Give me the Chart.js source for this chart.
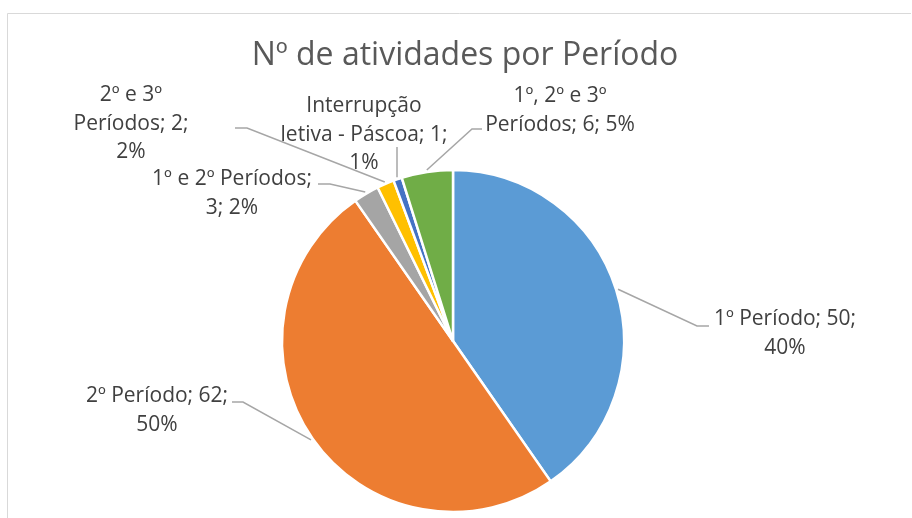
<!DOCTYPE html>
<html><head><meta charset="utf-8">
<script src="https://cdn.jsdelivr.net/npm/chart.js@4/dist/chart.umd.min.js"></script>
<style>html,body{margin:0;padding:0;background:#fff;overflow:hidden}#w{position:relative;width:912px;height:518px}</style>
</head><body><div id="w"><canvas id="c" width="912" height="518"></canvas></div>
<script>
const chartTitle = "Nº de atividades por Período";
const categories = ["1º Período", "2º Período", "1º e 2º Períodos", "2º e 3º Períodos", "Interrupção letiva - Páscoa", "1º, 2º e 3º Períodos"];
const activityCounts = [50, 62, 3, 2, 1, 6];
const sliceColors = ["#5B9BD5", "#ED7D31", "#A5A5A5", "#FFC000", "#4472C4", "#70AD47"];

// label layout: words per line, text centre x / first baseline offsets, leader end offset, elbow length (relative to pie centre)
const labelLayout = [
  {words: [3, 1],    tx: 332,  by: -16,  ex: 256,  ey: -15,  elbow: -12},
  {words: [3, 1],    tx: -296, by: 61,   ex: -221, ey: 61,   elbow: 11},
  {words: [4, 2],    tx: -221, by: -156, ex: -135, ey: -157, elbow: 12},
  {words: [3, 2, 1], tx: -322, by: -240, ex: -218, ey: -213, elbow: 12},
  {words: [1, 4, 1], tx: -89,  by: -229, ex: -56,  ey: -194, elbow: 0},
  {words: [4, 3],    tx: 107,  by: -239, ex: 29,   ey: -212, elbow: -10}
];

const LABEL_FONT = '21px "Open Sans", "Noto Sans", sans-serif';
const LINE_H = 28.5;

function labelLines(i) {
  const total = activityCounts.reduce((a, b) => a + b, 0);
  const pct = Math.round(activityCounts[i] / total * 100);
  const words = (categories[i] + "; " + activityCounts[i] + "; " + pct + "%").split(" ");
  const lines = [];
  let k = 0;
  for (const n of labelLayout[i].words) { lines.push(words.slice(k, k + n).join(" ")); k += n; }
  return lines;
}

const frame = {
  id: 'frame',
  beforeDraw(chart) {
    const ctx = chart.ctx;
    ctx.save();
    ctx.fillStyle = '#fff';
    ctx.fillRect(0, 0, chart.width, chart.height);
    ctx.strokeStyle = '#D9D9D9';
    ctx.lineWidth = 1;
    ctx.beginPath();
    ctx.moveTo(7.5, chart.height + 2);
    ctx.lineTo(7.5, 13.5);
    ctx.lineTo(chart.width - 1, 13.5);
    ctx.stroke();
    ctx.fillStyle = '#595959';
    ctx.font = '32px "Open Sans", "Noto Sans", sans-serif';
    ctx.textAlign = 'center';
    ctx.textBaseline = 'alphabetic';
    ctx.fillText(chartTitle, 465, 65);
    ctx.restore();
  }
};

const pieLabels = {
  id: 'pieLabels',
  afterDatasetsDraw(chart) {
    const ctx = chart.ctx;
    const meta = chart.getDatasetMeta(0);
    ctx.save();
    meta.data.forEach((arc, i) => {
      const L = labelLayout[i];
      const cx = arc.x, cy = arc.y;
      const mid = (arc.startAngle + arc.endAngle) / 2;
      const r = arc.outerRadius + 2;
      const sx = cx + Math.cos(mid) * r, sy = cy + Math.sin(mid) * r;
      const ex = cx + L.ex, ey = cy + L.ey;
      ctx.strokeStyle = '#A6A6A6';
      ctx.lineWidth = 1.5;
      ctx.beginPath();
      ctx.moveTo(sx, sy);
      ctx.lineTo(ex + L.elbow, ey);
      ctx.lineTo(ex, ey);
      ctx.stroke();
      const lines = labelLines(i);
      ctx.fillStyle = '#404040';
      ctx.font = LABEL_FONT;
      ctx.textAlign = 'center';
      ctx.textBaseline = 'alphabetic';
      lines.forEach((t, j) => ctx.fillText(t, cx + L.tx, cy + L.by + j * LINE_H));
    });
    ctx.restore();
  }
};

new Chart(document.getElementById('c'), {
  type: 'pie',
  data: {
    labels: categories,
    datasets: [{
      data: activityCounts,
      backgroundColor: sliceColors,
      borderColor: '#FFFFFF',
      borderWidth: 2.5
    }]
  },
  options: {
    responsive: false,
    animation: false,
    events: [],
    radius: 171,
    layout: {padding: {left: 0, right: 6, top: 164, bottom: 0}},
    plugins: {legend: {display: false}, title: {display: false}, tooltip: {enabled: false}}
  },
  plugins: [frame, pieLabels]
});
</script>
</body></html>
